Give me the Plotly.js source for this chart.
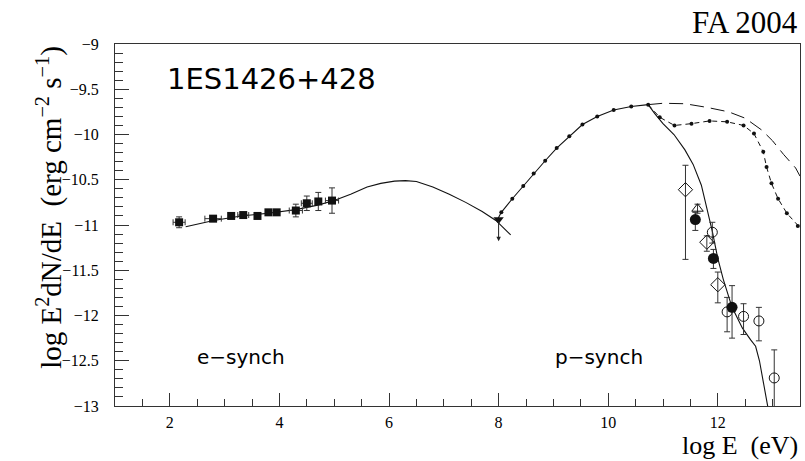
<!DOCTYPE html>
<html>
<head>
<meta charset="utf-8">
<script src="https://cdn.plot.ly/plotly-3.0.1.min.js"></script>
<style>html,body{margin:0;padding:0;background:#fff;}#chart{width:805px;height:461px;}</style>
</head>
<body>
<div id="chart"></div>
<script>
// ---- e-synchrotron data (squares) ----
const eX     = [2.17, 2.79, 3.12, 3.34, 3.60, 3.80, 3.95, 4.30, 4.50, 4.71, 4.96];
const eY     = [-10.97, -10.93, -10.90, -10.89, -10.90, -10.86, -10.86, -10.84, -10.76, -10.74, -10.73];
const eYerr  = [0.06, 0.02, 0.02, 0.02, 0.02, 0.02, 0.02, 0.07, 0.08, 0.10, 0.14];
const eXerr  = [0.11, 0.15, 0.0, 0.10, 0.0, 0.0, 0.0, 0.12, 0.10, 0.0, 0.12];

// ---- upper limit ----
const ulX = [8.0];
const ulY = [-10.94];
const ulLen = [0.24];

// ---- TeV data ----
const diaX = [11.41, 11.80, 12.00];
const diaY = [-10.61, -11.19, -11.66];
const diaErrUp = [0.27, 0.07, 0.14];
const diaErrDn = [0.77, 0.10, 0.20];

const triX = [11.63];
const triY = [-10.82];
const triErr = [0.05];

const fcX = [11.59, 11.92, 12.26];
const fcY = [-10.94, -11.37, -11.91];
const fcErrUp = [0.08, 0.10, 0.24];
const fcErrDn = [0.12, 0.11, 0.34];

const ocX = [11.90, 12.17, 12.47, 12.75, 13.03];
const ocY = [-11.08, -11.96, -12.01, -12.06, -12.69];
const ocErrUp = [0.11, 0.16, 0.14, 0.15, 0.31];
const ocErrDn = [0.12, 0.22, 0.20, 0.22, 0.40];

// ---- model curves ----
const eCurveX = [2.29, 2.8, 3.3, 3.8, 4.3, 4.7, 5.0, 5.3, 5.6, 5.85, 6.1, 6.3, 6.5, 6.8, 7.1, 7.4, 7.7, 7.95, 8.22];
const eCurveY = [-11.02, -10.95, -10.90, -10.87, -10.83, -10.78, -10.73, -10.66, -10.58, -10.54, -10.515, -10.51, -10.52, -10.58, -10.66, -10.75, -10.85, -10.95, -11.11];

const pX = [8.05, 8.25, 8.45, 8.64, 8.85, 9.06, 9.29, 9.53, 9.80, 10.10, 10.42, 10.73];
const pY = [-10.86, -10.71, -10.57, -10.43, -10.29, -10.15, -10.02, -9.89, -9.80, -9.73, -9.69, -9.67];
const pStartX = [7.98];
const pStartY = [-10.94];

const dashX = [10.73, 11.0, 11.4, 11.8, 12.2, 12.5, 12.8, 13.0, 13.2, 13.42, 13.5];
const dashY = [-9.67, -9.655, -9.66, -9.70, -9.75, -9.82, -9.95, -10.07, -10.22, -10.37, -10.46];

const ddX = [10.73, 10.94, 11.21, 11.52, 11.85, 12.17, 12.47, 12.66, 12.83, 12.89, 12.98, 13.10, 13.26, 13.46, 13.5];
const ddY = [-9.67, -9.81, -9.90, -9.88, -9.85, -9.86, -9.90, -9.99, -10.19, -10.36, -10.54, -10.71, -10.87, -11.01, -11.03];

const sX = [10.73, 10.85, 11.0, 11.2, 11.4, 11.55, 11.7, 11.8, 11.9, 12.0, 12.1, 12.26, 12.45, 12.6, 12.69, 12.76, 12.82, 12.88, 12.94];
const sY = [-9.67, -9.77, -9.88, -10.0, -10.17, -10.33, -10.56, -10.82, -11.07, -11.37, -11.6, -11.91, -12.14, -12.27, -12.34, -12.5, -12.69, -12.88, -13.1];

// ---- axes ----
const xRange = [1, 13.5];
const yRange = [-13, -9];
const xTickVals = [2, 4, 6, 8, 10, 12];
const yTickVals = [-13, -12.5, -12, -11.5, -11, -10.5, -10, -9.5, -9];

const ink = '#111';
const ebar = (arr, arrm) => ({type:'data', symmetric: arrm === undefined, array: arr, arrayminus: arrm, color: '#333', thickness: 1, width: 3});

const traces = [
  {x: eCurveX, y: eCurveY, mode: 'lines', line: {color: ink, width: 1.1}, hoverinfo: 'skip'},
  {x: pStartX.concat(pX), y: pStartY.concat(pY), mode: 'lines', line: {color: ink, width: 1.1}, hoverinfo: 'skip'},
  {x: pX, y: pY, mode: 'markers', marker: {color: ink, size: 4}, hoverinfo: 'skip'},
  {x: dashX, y: dashY, mode: 'lines', line: {color: ink, width: 1.0, dash: '14px,7px'}, hoverinfo: 'skip'},
  {x: ddX, y: ddY, mode: 'lines', line: {color: ink, width: 1.0, dash: '5px,4px'}, hoverinfo: 'skip'},
  {x: ddX.slice(1, -1), y: ddY.slice(1, -1), mode: 'markers', marker: {color: ink, size: 4}, hoverinfo: 'skip'},
  {x: sX, y: sY, mode: 'lines', line: {color: ink, width: 1.1}, hoverinfo: 'skip'},
  {x: eX, y: eY, mode: 'markers', marker: {symbol: 'square', color: ink, size: 8},
   error_y: ebar(eYerr), error_x: ebar(eXerr)},
  {x: ulX, y: ulY, mode: 'markers', marker: {symbol: 'triangle-down', color: ink, size: 9}},
  {x: diaX, y: diaY, mode: 'markers', marker: {symbol: 'diamond-open', color: ink, size: 11, line: {width: 1, color: ink}},
   error_y: ebar(diaErrUp, diaErrDn)},
  {x: triX, y: triY, mode: 'markers', marker: {symbol: 'triangle-up-open', color: ink, size: 10, line: {width: 1, color: ink}},
   error_y: ebar(triErr)},
  {x: ocX, y: ocY, mode: 'markers', marker: {symbol: 'circle-open', color: ink, size: 10, line: {width: 1, color: ink}},
   error_y: ebar(ocErrUp, ocErrDn)},
  {x: fcX, y: fcY, mode: 'markers', marker: {symbol: 'circle', color: ink, size: 11},
   error_y: ebar(fcErrUp, fcErrDn)}
];

const serif = 'Liberation Serif, Times New Roman, serif';
const sans = 'DejaVu Sans, sans-serif';

const layout = {
  width: 805, height: 461,
  margin: {l: 115, r: 5, t: 44, b: 55},
  paper_bgcolor: '#fff', plot_bgcolor: '#fff',
  showlegend: false,
  xaxis: {
    range: xRange, tickvals: xTickVals, ticktext: xTickVals.map(String),
    ticks: 'inside', ticklen: 13, tickcolor: '#333', tickwidth: 1,
    minor: {dtick: 0.5, tick0: 0, ticks: 'inside', ticklen: 7, tickcolor: '#333', tickwidth: 1, showgrid: false},
    showline: true, linecolor: '#333', linewidth: 1, mirror: true,
    showgrid: false, zeroline: false,
    tickfont: {family: serif, size: 16, color: '#000'},
    ticklabelstandoff: 2
  },
  yaxis: {
    range: yRange, tickvals: yTickVals,
    ticks: 'inside', ticklen: 14, tickcolor: '#333', tickwidth: 1,
    minor: {dtick: 0.1, tick0: 0, ticks: 'inside', ticklen: 8, tickcolor: '#333', tickwidth: 1, showgrid: false},
    showline: true, linecolor: '#333', linewidth: 1, mirror: true,
    showgrid: false, zeroline: false,
    tickfont: {family: serif, size: 16, color: '#000'},
    ticklabelstandoff: 12
  },
  annotations: [
    {text: '1ES1426+428', x: 1.91, y: -9.39, xref: 'x', yref: 'y', xanchor: 'left', yanchor: 'middle', showarrow: false,
     font: {family: sans, size: 29, color: '#000'}},
    {text: 'e\u2212synch', x: 2.46, y: -12.46, xref: 'x', yref: 'y', xanchor: 'left', yanchor: 'middle', showarrow: false,
     font: {family: sans, size: 20, color: '#000'}},
    {text: 'p\u2212synch', x: 9.0, y: -12.46, xref: 'x', yref: 'y', xanchor: 'left', yanchor: 'middle', showarrow: false,
     font: {family: sans, size: 20, color: '#000'}},
    {text: 'FA 2004', x: 1, y: 1.06, xref: 'paper', yref: 'paper', xanchor: 'right', yanchor: 'middle', showarrow: false,
     font: {family: serif, size: 31, color: '#000'}},
    {text: 'log E  (eV)', x: 1, y: -0.1547, xref: 'paper', yref: 'paper', xanchor: 'right', yanchor: 'bottom', showarrow: false,
     font: {family: serif, size: 26, color: '#000'}},
    {text: 'log E<sup>2</sup>dN/dE  (erg cm<sup>\u22122</sup> s<sup>\u22121</sup>)', x: -0.095, y: 0.55, xref: 'paper', yref: 'paper',
     xanchor: 'center', yanchor: 'middle', textangle: -90, showarrow: false,
     font: {family: serif, size: 29, color: '#000'}},
    {text: '', x: ulX[0], y: ulY[0] - ulLen[0], ax: ulX[0], ay: ulY[0], xref: 'x', yref: 'y', axref: 'x', ayref: 'y',
     showarrow: true, arrowhead: 2, arrowsize: 0.9, arrowwidth: 1, arrowcolor: '#222'}
  ]
};

Plotly.newPlot('chart', traces, layout, {staticPlot: true, displayModeBar: false});
</script>
</body>
</html>
